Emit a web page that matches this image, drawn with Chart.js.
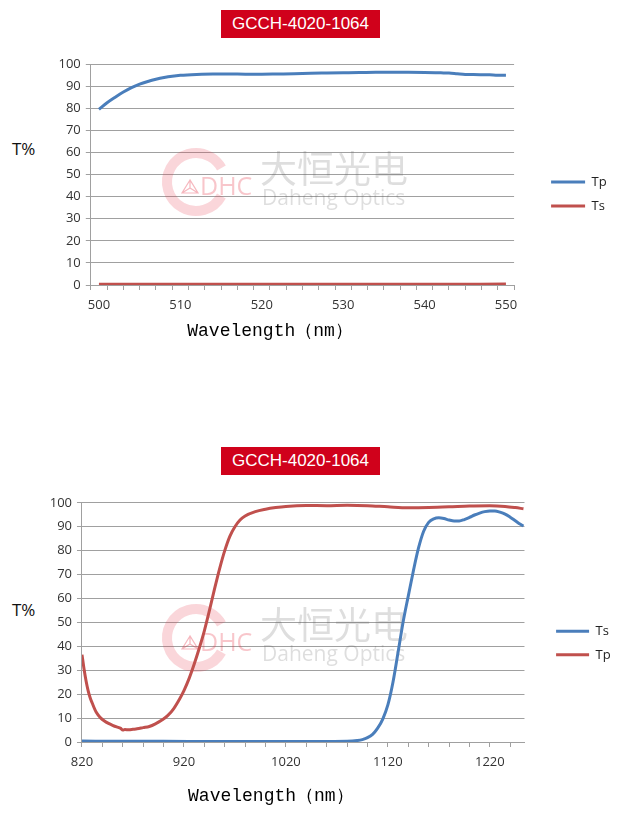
<!doctype html>
<html>
<head>
<meta charset="utf-8">
<title>GCCH-4020-1064</title>
<script src="https://cdn.jsdelivr.net/npm/chart.js@4/dist/chart.umd.min.js"></script>
<style>
  body { margin:0; background:#fff; width:631px; height:823px; position:relative; overflow:hidden; }
  .tag { position:absolute; left:221px; width:159px; height:28px; background:#d0011b; color:#fff;
         font:17px "Liberation Sans", Arial, sans-serif; line-height:28px; text-align:center; }
  .ylab { position:absolute; left:12px; font:17px "Open Sans", sans-serif; color:#111; line-height:20px; }
  canvas { position:absolute; left:0; }
</style>
</head>
<body>
<div class="tag" style="top:10px">GCCH-4020-1064</div>
<div class="ylab" style="top:139px">T%</div>
<canvas id="c1" width="631" height="300" style="top:50px"></canvas>

<div class="tag" style="top:447px">GCCH-4020-1064</div>
<div class="ylab" style="top:600px">T%</div>
<canvas id="c2" width="631" height="333" style="top:490px"></canvas>

<script>
// ---- top chart (500-550 nm) ----
var wl1 = [500,501,502,503,504,505,506,507,508,509,510,512,514,516,518,520,522,524,526,528,530,
           532,534,536,538,540,542,543,544,545,546,548,549,550];
var tp1 = [79.5,82.5,85.0,87.3,89.3,90.9,92.1,93.1,93.9,94.5,94.9,95.3,95.5,95.5,95.4,95.4,95.5,
           95.6,95.8,95.9,96.0,96.1,96.3,96.3,96.3,96.2,96.0,95.9,95.6,95.3,95.2,95.1,94.9,94.9];
var wlTs1 = [500,510,520,530,540,550];
var ts1 = [0.3,0.3,0.3,0.3,0.3,0.4];
var xLabels1 = [500,510,520,530,540,550];

// ---- bottom chart (820-1250 nm) ----
var wlTp2 = [820,822,824,826,828,830,834,838,842,846,850,854,858,860,862,866,870,874,880,886,892,
             898,904,910,916,920,925,930,935,940,945,950,955,960,965,970,975,980,990,1000,1010,1020,
             1040,1060,1080,1100,1120,1140,1160,1180,1200,1220,1235,1245,1253];
var tp2 = [36.5,30.5,25.5,21.5,18.5,16.3,12.4,10.2,8.8,7.8,7.0,6.3,5.7,5.0,5.2,5.1,5.3,5.5,6.0,6.5,
           7.6,9.1,11.0,14.0,18.2,21.5,26.5,32.5,39.2,46.5,55.0,64.0,72.5,80.0,86.0,90.0,92.8,94.5,
           96.3,97.3,98.0,98.5,98.9,98.8,99.0,98.8,98.3,97.9,98.0,98.3,98.7,98.8,98.5,98.0,97.5];
var wlTs2 = [820,860,900,950,1000,1050,1080,1090,1095,1100,1105,1110,1115,1120,1125,1130,1135,1140,
             1145,1150,1155,1160,1165,1170,1175,1180,1185,1190,1195,1200,1205,1210,1215,1220,1225,
             1230,1235,1240,1245,1250,1253];
var ts2 = [0.4,0.3,0.3,0.2,0.2,0.2,0.3,0.6,1.0,1.8,3.2,5.8,9.6,15.5,25.0,37.5,50.3,61.0,71.5,81.0,
           88.0,91.8,93.3,93.7,93.4,92.8,92.4,92.4,93.0,93.9,94.9,95.7,96.3,96.6,96.6,96.1,95.3,
           94.0,92.5,91.0,90.3];
var xLabels2 = [820,920,1020,1120,1220];

var BLUE = '#4a7ebb';
var RED = '#c0504d';
var GRID = '#a0a0a0';
var tickFont = { family: '"Open Sans", sans-serif', size: 13 };
var xTitle = 'Wavelength\uff08nm\uff09      ';

function pts(xs, ys) {
  return xs.map(function(x, i) { return { x: x, y: ys[i] }; });
}

function series(label, color, data) {
  return { label: label, data: data, borderColor: color, backgroundColor: color,
           borderWidth: 3, pointRadius: 0, pointStyle: 'line', cubicInterpolationMode: 'monotone' };
}

// faint company watermark behind the curves
var watermark = {
  id: 'watermark',
  beforeDatasetsDraw: function(chart, args, opts) {
    var ctx = chart.ctx, cx = opts.x, cy = opts.y;
    ctx.save();
    ctx.strokeStyle = 'rgba(230,50,70,0.2)';
    ctx.lineWidth = 10;
    ctx.beginPath();
    ctx.arc(cx, cy, 29, 0.16 * Math.PI, 1.84 * Math.PI);
    ctx.stroke();
    ctx.strokeStyle = 'rgba(230,50,70,0.35)';
    ctx.lineWidth = 1.2;
    ctx.beginPath();
    ctx.moveTo(cx - 6, cy - 2); ctx.lineTo(cx - 14, cy + 11); ctx.lineTo(cx + 2, cy + 11); ctx.closePath();
    ctx.moveTo(cx - 6, cy - 2); ctx.lineTo(cx - 6, cy + 6);
    ctx.moveTo(cx - 14, cy + 11); ctx.lineTo(cx - 6, cy + 6); ctx.lineTo(cx + 2, cy + 11);
    ctx.stroke();
    ctx.fillStyle = 'rgba(230,50,70,0.28)';
    ctx.font = '25px "Open Sans"';
    ctx.textBaseline = 'alphabetic';
    ctx.fillText('DHC', cx + 4, cy + 13);
    ctx.fillStyle = 'rgba(90,90,90,0.2)';
    ctx.font = '37px "Noto Sans CJK SC"';
    ctx.textBaseline = 'middle';
    ctx.fillText('大恒光电', cx + 64, cy - 13);
    ctx.font = '21px "Open Sans"';
    ctx.textBaseline = 'alphabetic';
    ctx.fillText('Daheng Optics', cx + 66, cy + 23);
    ctx.restore();
  }
};

function makeChart(id, datasets, s) {
  return new Chart(document.getElementById(id), {
    type: 'line',
    data: { datasets: datasets },
    plugins: [watermark],
    options: {
      responsive: false,
      animation: false,
      devicePixelRatio: 1,
      layout: { padding: s.pad },
      plugins: {
        tooltip: { enabled: false },
        watermark: { x: s.wx, y: s.wy },
        legend: {
          position: 'right',
          fullSize: false,
          labels: { usePointStyle: true, pointStyleWidth: s.boxW, padding: s.legPad,
                    font: tickFont, color: '#222' },
          title: { display: true, text: '', font: { size: 1 }, padding: { top: s.legTop, bottom: 0 } }
        }
      },
      scales: {
        x: {
          type: 'linear', min: s.min, max: s.max,
          afterBuildTicks: function(axis) {
            var t = [];
            for (var v = s.first; v <= s.max; v += s.step) t.push({ value: v });
            axis.ticks = t;
          },
          ticks: {
            autoSkip: false, maxRotation: 0, padding: 7, labelOffset: s.labelOffset,
            font: tickFont, color: '#333',
            callback: function(v) {
              var lab = v + s.shift;
              return s.labels.indexOf(lab) >= 0 ? String(lab) : '';
            }
          },
          grid: { drawOnChartArea: false, tickLength: 5, color: GRID },
          border: { color: GRID },
          title: { display: true, text: xTitle, color: '#000',
                   font: { family: '"Liberation Mono", monospace', size: 18 },
                   padding: { top: s.titleTop, bottom: 0 } }
        },
        y: {
          min: 0, max: 100,
          ticks: { stepSize: 10, padding: 5, font: tickFont, color: '#333' },
          grid: { color: GRID, tickLength: 5 },
          border: { color: GRID }
        },
        gap: {
          type: 'linear', position: 'right', display: true,
          grid: { display: false }, ticks: { display: false }, border: { display: false },
          afterFit: function(scale) { scale.width = s.gap; }
        }
      }
    }
  });
}

makeChart('c1', [series('Tp', BLUE, pts(wl1, tp1)), series('Ts', RED, pts(wlTs1, ts1))], {
  pad: { top: 14, left: 53.5, right: 14.3, bottom: 7.8 },
  min: 499, max: 551, first: 499, step: 2, shift: 1, labelOffset: 8.2, labels: xLabels1,
  titleTop: 1, gap: 26, boxW: 34, legPad: 11, legTop: 38, wx: 196, wy: 132
});

makeChart('c2', [series('Ts', BLUE, pts(wlTs2, ts2)), series('Tp', RED, pts(wlTp2, tp2))], {
  pad: { top: 12.7, left: 44.7, right: 10.3, bottom: 15.8 },
  min: 820, max: 1254, first: 820, step: 20, shift: 0, labelOffset: 0, labels: xLabels2,
  titleTop: 9, gap: 21, boxW: 33, legPad: 10.6, legTop: 40, wx: 196, wy: 148
});
</script>
</body>
</html>
